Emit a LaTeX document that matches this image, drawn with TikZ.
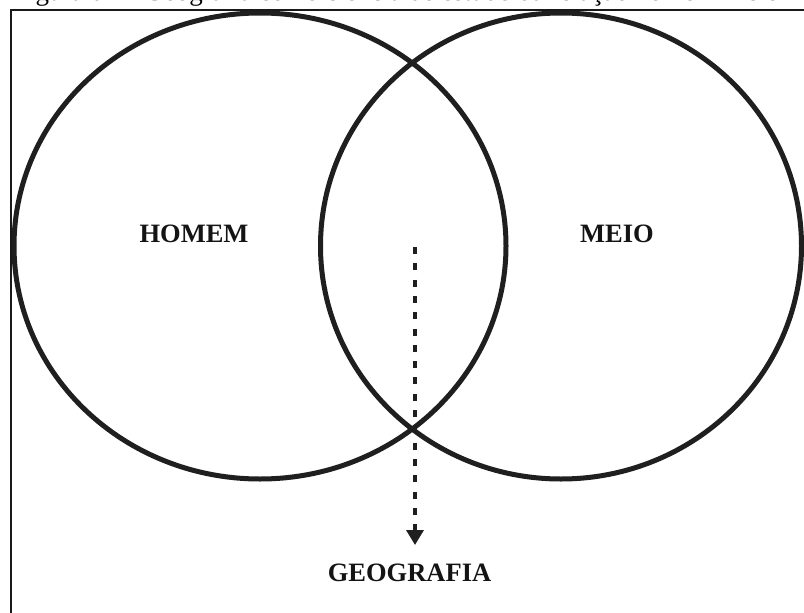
\documentclass[tikz,border=0pt]{standalone}
\usepackage{fontspec}
\setmainfont{Liberation Serif}
\usetikzlibrary{arrows.meta}
\tikzset{
  ring/.style={draw=black!88, line width=5pt},
  frameline/.style={draw=black!90, line width=2.2pt},
  lbl/.style={font=\fontsize{26.5}{30}\selectfont\bfseries, text=black!92, inner sep=0pt, anchor=base},
  dotarrow/.style={draw=black!88, line width=3.5pt, dash pattern=on 7pt off 9.3pt,
    -{Triangle[length=15pt,width=17pt]}},
}
\begin{document}
\begin{tikzpicture}[x=1pt,y=-1pt]
\useasboundingbox (0,0) rectangle (804,613);
\begin{scope}
\clip (0,0) rectangle (804,613);
\fill[white] (0,0) rectangle (804,613);
% caption (cut off at the top, as in the reference)
\node[font=\fontsize{27}{30}\selectfont, inner sep=0pt, anchor=base west] (cap) at (13,1)
  {Figura 01 – Geografia como ciência de estudo da relação homem-meio};
% frame
\draw[frameline] (10.7,820) -- (10.7,10) -- (820,10);
% circles
\draw[ring] (260,246) ellipse [x radius=246, y radius=233];
\draw[ring] (561,246) ellipse [x radius=240.5, y radius=233];
\end{scope}
% labels
\node[lbl] (homem) at (194,242) {HOMEM};
\node[lbl] (meio) at (617,242) {MEIO};
\node[lbl] (geo) at (409.5,581) {GEOGRAFIA};
% arrow
\coordinate (start) at (415,247);
\coordinate (tip) at (415,545);
\draw[dotarrow] (start) -- (tip);
\end{tikzpicture}
\end{document}
